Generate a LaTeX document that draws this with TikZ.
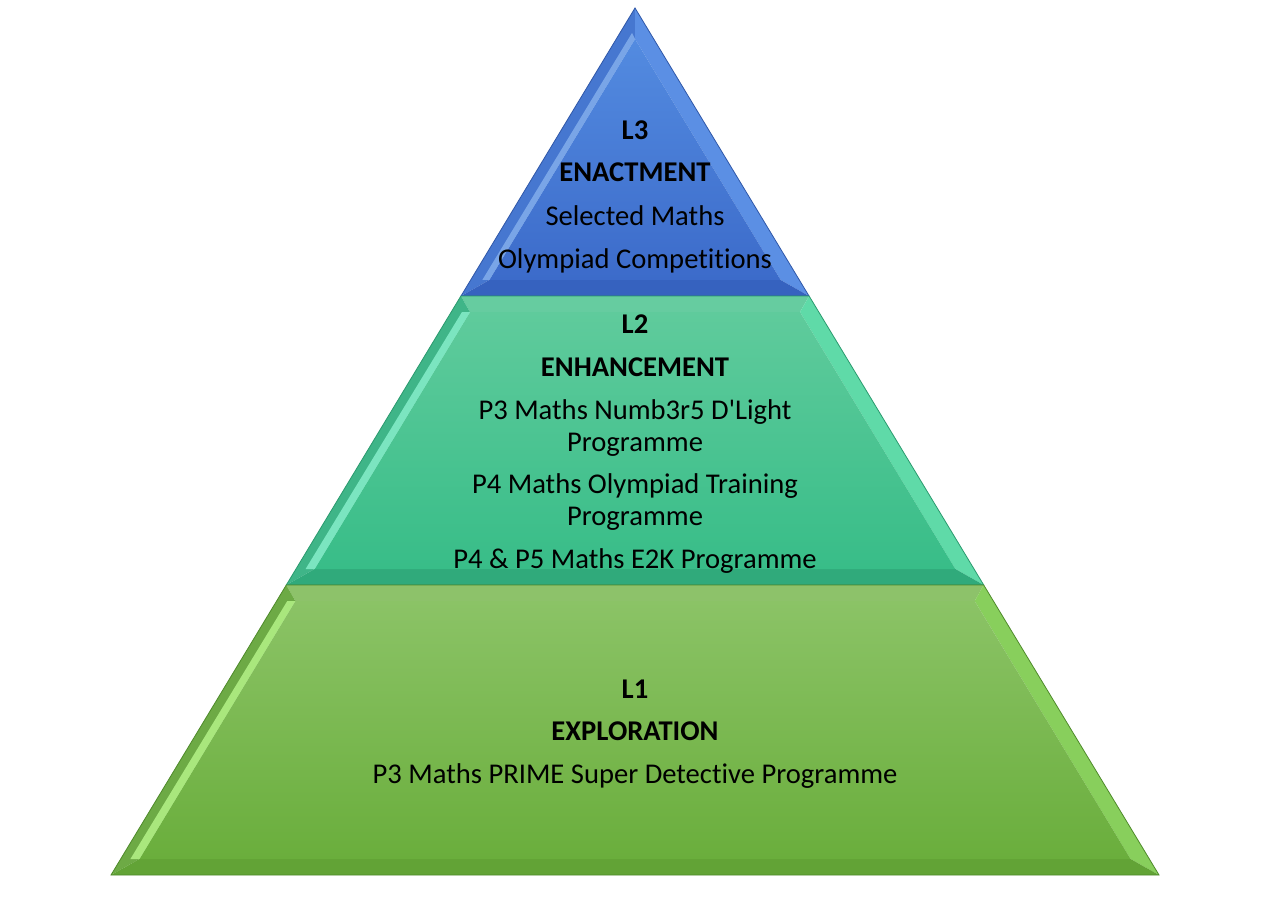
\documentclass[tikz,border=0pt]{standalone}
\usepackage{fontspec}
\setmainfont{Carlito}[Ligatures=NoCommon]
\begin{document}
\begin{tikzpicture}[x=1pt,y=-1pt,
  txt/.style={font=\fontsize{28.6}{33}\selectfont, text=black, inner sep=0pt, anchor=base},
  ttl/.style={txt, font=\fontsize{28.6}{33}\selectfont\bfseries},
  outline/.style={line width=0.8pt, line join=miter}
]
\fill[white] (0,0) rectangle (1279,901);
\useasboundingbox (0,0) rectangle (1279,901);

% ---------- colours
\definecolor{bFaceT}{HTML}{538BE0}\definecolor{bFaceB}{HTML}{3C6BCA}
\definecolor{bLeft}{HTML}{4677D0}\definecolor{bRight}{HTML}{5B8FE4}
\definecolor{bBot}{HTML}{3662BF}\definecolor{bHi}{HTML}{8FB9F2}\definecolor{bLine}{HTML}{2F57A8}
\definecolor{tFaceT}{HTML}{5FCB9C}\definecolor{tFaceB}{HTML}{38BD88}
\definecolor{tLeft}{HTML}{3FB588}\definecolor{tRight}{HTML}{5FDAA8}
\definecolor{tTop}{HTML}{66CCA0}\definecolor{tBot}{HTML}{30AA7B}\definecolor{tHi}{HTML}{8AF2CF}\definecolor{tLine}{HTML}{2A9A6E}
\definecolor{gFaceT}{HTML}{8BC366}\definecolor{gFaceB}{HTML}{6AAE3C}
\definecolor{gLeft}{HTML}{6DAA45}\definecolor{gRight}{HTML}{88CF5C}
\definecolor{gTop}{HTML}{8DC26A}\definecolor{gBot}{HTML}{62A336}\definecolor{gHi}{HTML}{B8F78C}\definecolor{gLine}{HTML}{4E8A2A}

% ---------- L3 (triangle)
\coordinate (A3) at (635,8);   \coordinate (BL3) at (461,296); \coordinate (BR3) at (809,296);
\coordinate (a3) at (635,39);  \coordinate (bl3) at (489.3,280); \coordinate (br3) at (780.7,280);
\fill[bLeft]  (A3) -- (BL3) -- (bl3) -- (a3) -- cycle;
\fill[bRight] (A3) -- (BR3) -- (br3) -- (a3) -- cycle;
\fill[bBot]   (BL3) -- (BR3) -- (br3) -- (bl3) -- cycle;
\shade[top color=bFaceT, bottom color=bFaceB] (a3) -- (br3) -- (bl3) -- cycle;
\fill[bHi, opacity=0.7] (a3) -- (bl3) -- ([xshift=-7pt]bl3) -- ([xshift=-3pt,yshift=6pt]a3) -- cycle;
\draw[outline, bLine] (A3) -- (BR3) -- (BL3) -- cycle;

% ---------- L2 (trapezoid)
\coordinate (TL2) at (460.9,296); \coordinate (TR2) at (809.1,296);
\coordinate (BR2) at (983.7,585); \coordinate (BL2) at (286.3,585);
\coordinate (tl2) at (470,312);   \coordinate (tr2) at (800,312);
\coordinate (br2) at (955.4,569); \coordinate (bl2) at (314.6,569);
\fill[tTop]   (TL2) -- (TR2) -- (tr2) -- (tl2) -- cycle;
\fill[tLeft]  (TL2) -- (BL2) -- (bl2) -- (tl2) -- cycle;
\fill[tRight] (TR2) -- (BR2) -- (br2) -- (tr2) -- cycle;
\fill[tBot]   (BL2) -- (BR2) -- (br2) -- (bl2) -- cycle;
\shade[top color=tFaceT, bottom color=tFaceB] (tl2) -- (tr2) -- (br2) -- (bl2) -- cycle;
\fill[tHi, opacity=0.8] (tl2) -- (bl2) -- ([xshift=-9pt]bl2) -- ([xshift=-8pt]tl2) -- cycle;
\draw[outline, tLine] (TL2) -- (TR2) -- (BR2) -- (BL2) -- cycle;

% ---------- L1 (trapezoid)
\coordinate (TL1) at (286.3,585); \coordinate (TR1) at (983.7,585);
\coordinate (BR1) at (1159,875);  \coordinate (BL1) at (111,875);
\coordinate (tl1) at (295.3,601); \coordinate (tr1) at (974.7,601);
\coordinate (br1) at (1130.6,859);\coordinate (bl1) at (139.4,859);
\fill[gTop]   (TL1) -- (TR1) -- (tr1) -- (tl1) -- cycle;
\fill[gLeft]  (TL1) -- (BL1) -- (bl1) -- (tl1) -- cycle;
\fill[gRight] (TR1) -- (BR1) -- (br1) -- (tr1) -- cycle;
\fill[gBot]   (BL1) -- (BR1) -- (br1) -- (bl1) -- cycle;
\shade[top color=gFaceT, bottom color=gFaceB] (tl1) -- (tr1) -- (br1) -- (bl1) -- cycle;
\fill[gHi, opacity=0.8] (tl1) -- (bl1) -- ([xshift=-9pt]bl1) -- ([xshift=-8pt]tl1) -- cycle;
\draw[outline, gLine] (TL1) -- (TR1) -- (BR1) -- (BL1) -- cycle;

% ---------- texts L3
\node[ttl] (l3a) at (635,140) {L3};
\node[ttl] (l3b) at (635,182) {ENACTMENT};
\node[txt] (l3c) at (635,226) {Selected Maths};
\node[txt] (l3d) at (635,269) {Olympiad Competitions};
% ---------- texts L2
\node[ttl] (l2a) at (635,333) {L2};
\node[ttl] (l2b) at (635,376) {ENHANCEMENT};
\node[txt] (l2c) at (635,419) {P3 Maths Numb3r5 D\textquotesingle Light};
\node[txt] (l2d) at (635,451) {Programme};
\node[txt] (l2e) at (635,493) {P4 Maths Olympiad Training};
\node[txt] (l2f) at (635,525) {Programme};
\node[txt] (l2g) at (635,568) {P4 \& P5 Maths E2K Programme};
% ---------- texts L1
\node[ttl] (l1a) at (635,698) {L1};
\node[ttl] (l1b) at (635,740) {EXPLORATION};
\node[txt] (l1c) at (635,783) {P3 Maths PRIME Super Detective Programme};
\end{tikzpicture}
\end{document}
